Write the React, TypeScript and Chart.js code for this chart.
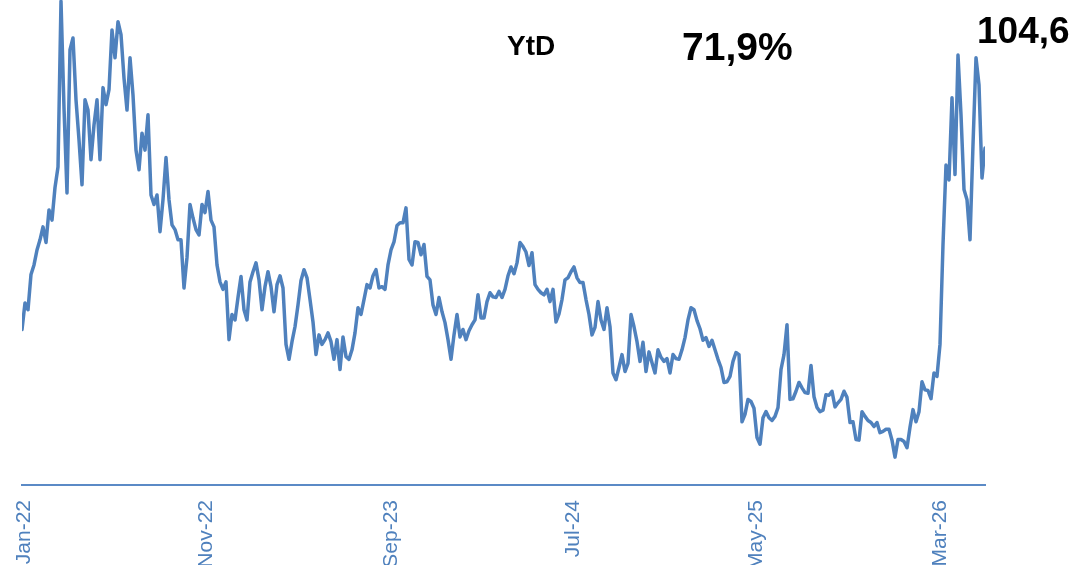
import React, { useEffect, useRef } from "react";
import { Chart, registerables } from "chart.js";

Chart.register(...registerables);

// Tick labels on the time axis and where they sit (sample index)
const tickLabels = ["Jan-22", "Nov-22", "Sep-23", "Jul-24", "May-25", "Mar-26"];
const tickPositions = [0.7, 61.5, 123, 183.7, 244.7, 306.2];

// Price series, roughly one value every ~3.5 sessions, Jan-2022 .. Apr-2026
const prices = [
  77.9, 81.8, 80.8, 86.0, 87.4, 89.6, 91.1, 93.0, 90.7, 95.5,
  94.0, 98.8, 101.8, 126.2, 110.5, 98.0, 119.1, 120.8, 111.7, 105.8,
  99.2, 111.7, 110.2, 102.9, 108.0, 111.7, 102.9, 113.5, 111.0, 113.2,
  122.0, 117.9, 123.2, 121.3, 114.9, 110.2, 117.9, 112.4, 104.3, 101.4,
  106.8, 104.3, 109.5, 97.7, 96.3, 97.7, 92.3, 97.0, 103.2, 97.0,
  93.3, 92.6, 91.1, 91.1, 84.0, 88.5, 96.3, 94.3, 92.6, 91.8,
  96.3, 95.1, 98.2, 94.0, 93.0, 87.4, 84.9, 83.8, 84.9, 76.4,
  80.1, 79.3, 82.6, 85.7, 80.8, 79.3, 84.9, 86.4, 87.7, 85.2,
  80.8, 84.2, 86.4, 84.2, 80.5, 84.5, 85.8, 84.0, 75.7, 73.5,
  76.1, 78.3, 81.5, 85.1, 86.7, 85.5, 82.3, 79.0, 74.2, 77.1,
  75.7, 76.4, 77.4, 76.1, 73.5, 76.4, 72.0, 76.8, 73.9, 73.5,
  74.9, 77.4, 81.1, 80.1, 82.3, 84.5, 84.0, 85.8, 86.7, 84.0,
  84.2, 83.8, 87.4, 89.6, 90.8, 93.2, 93.6, 93.6, 95.8, 88.2,
  87.4, 90.8, 90.7, 88.9, 90.4, 85.7, 85.2, 81.5, 80.1, 82.6,
  80.5, 78.9, 76.4, 73.5, 77.1, 80.1, 76.8, 77.9, 76.4, 77.7,
  78.6, 79.3, 83.0, 79.6, 79.6, 82.0, 83.3, 82.7, 82.6, 83.5,
  82.6, 83.8, 85.8, 87.1, 86.1, 87.7, 90.7, 90.1, 89.3, 87.3,
  89.2, 84.5, 83.8, 83.3, 83.0, 83.8, 82.0, 83.8, 79.0, 80.2,
  82.3, 85.2, 85.5, 86.4, 87.1, 85.5, 84.8, 84.8, 82.3, 80.1,
  77.1, 78.2, 82.0, 79.3, 77.9, 81.1, 78.3, 71.5, 70.5, 72.3,
  74.2, 71.7, 72.9, 80.1, 78.3, 76.1, 73.2, 76.0, 71.7, 74.6,
  73.0, 71.5, 74.9, 73.8, 73.2, 73.6, 71.5, 74.2, 73.6, 73.5,
  74.9, 76.7, 79.3, 81.1, 80.8, 79.2, 78.0, 76.3, 76.7, 75.4,
  76.3, 74.9, 73.5, 72.3, 70.1, 70.2, 71.0, 73.2, 74.5, 74.2,
  64.3, 65.4, 67.6, 67.3, 66.3, 62.0, 61.0, 64.9, 65.8, 64.9,
  64.5, 65.1, 66.4, 72.0, 74.2, 78.6, 67.6, 67.7, 68.8, 70.1,
  69.3, 68.6, 68.5, 72.6, 68.0, 66.4, 65.8, 66.0, 68.3, 68.2,
  68.8, 66.5, 67.1, 67.6, 68.8, 67.9, 64.2, 64.3, 61.7, 61.6,
  65.8, 65.1, 64.5, 64.2, 63.6, 64.2, 62.7, 62.9, 63.2, 63.2,
  61.6, 59.1, 61.7, 61.7, 61.4, 60.5, 63.5, 66.1, 64.3, 65.8,
  70.2, 69.0, 68.9, 67.7, 71.5, 71.0, 75.7, 90.4, 102.1, 99.9,
  112.0, 100.7, 118.3, 109.5, 98.5, 97.0, 91.1, 105.1, 117.9, 113.9,
  100.2, 104.6,
];

// Annotation texts
const ytdLabel = "YtD";
const ytdValue = "71,9%";
const lastValue = "104,6";

const textPlugin = {
  id: "cornerTexts",
  afterDraw(chart: any) {
    const ctx = chart.ctx as CanvasRenderingContext2D;
    ctx.save();
    ctx.fillStyle = "#000000";
    ctx.textAlign = "left";
    ctx.textBaseline = "alphabetic";
    ctx.font = 'bold 28px "Liberation Sans", Arial, sans-serif';
    ctx.fillText(ytdLabel, 507, 55);
    ctx.font = 'bold 39px "Liberation Sans", Arial, sans-serif';
    ctx.fillText(ytdValue, 682, 60);
    ctx.font = 'bold 37px "Liberation Sans", Arial, sans-serif';
    ctx.fillText(lastValue, 977, 43);
    ctx.restore();
  },
};

export default function App() {
  const ref = useRef<HTMLCanvasElement | null>(null);

  useEffect(() => {
    if (!ref.current) return;
    const chart = new Chart(ref.current, {
      type: "line",
      data: {
        datasets: [
          {
            data: prices.map((v, i) => ({ x: i, y: v })),
            borderColor: "#4f81bd",
            borderWidth: 3.5,
            pointRadius: 0,
            tension: 0,
            fill: false,
            borderJoinStyle: "round",
            borderCapStyle: "round",
          },
        ],
      },
      options: {
        animation: false,
        responsive: false,
        maintainAspectRatio: false,
        layout: { padding: { left: 22, right: 91, top: 0, bottom: 0 } },
        plugins: {
          legend: { display: false },
          tooltip: { enabled: false },
        },
        scales: {
          x: {
            type: "linear",
            min: 0,
            max: prices.length - 1,
            grid: { display: false, drawTicks: false },
            border: { display: true, color: "#5b8ac6", width: 2 },
            afterBuildTicks: (scale: any) => {
              scale.ticks = tickPositions.map((v) => ({ value: v }));
            },
            afterFit: (scale: any) => {
              scale.height = 115;
            },
            ticks: {
              autoSkip: false,
              minRotation: 90,
              maxRotation: 90,
              padding: 15,
              color: "#4f81bd",
              font: { family: '"Liberation Sans", Arial, sans-serif', size: 21 },
              callback: (_v: any, i: number) => tickLabels[i],
            },
          },
          y: { display: false, min: 55, max: 126.4 },
        },
      },
      plugins: [textPlugin],
    } as any);
    return () => chart.destroy();
  }, []);

  return (
    <div
      style={{
        position: "absolute",
        left: 0,
        top: 0,
        width: 1076,
        height: 565,
        overflow: "hidden",
        background: "#ffffff",
      }}
    >
      <canvas ref={ref} width={1076} height={600} style={{ display: "block" }} />
    </div>
  );
}
